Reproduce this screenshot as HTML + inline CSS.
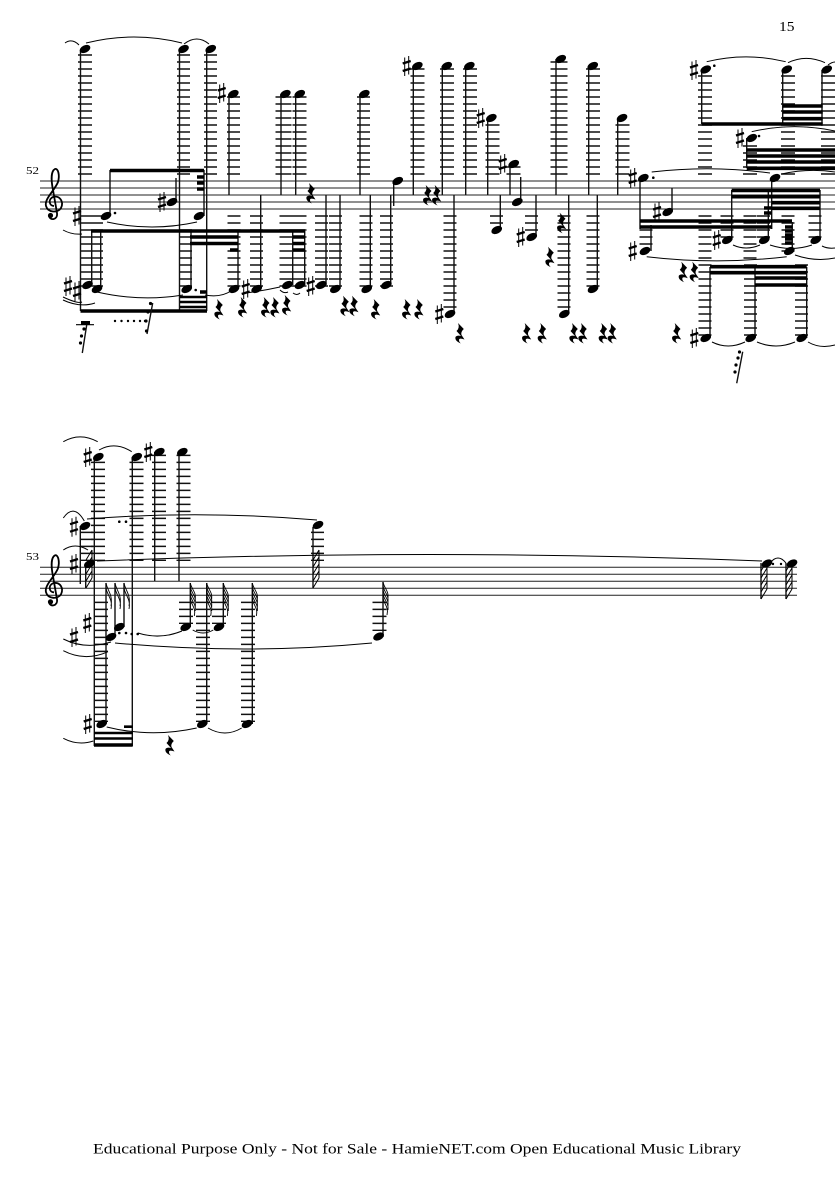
<!DOCTYPE html>
<html><head><meta charset="utf-8"><style>
html,body{margin:0;padding:0;background:#fff;width:835px;height:1181px;overflow:hidden}
svg{display:block}
.staff{stroke:#222;stroke-width:1;fill:none}
.st{stroke:#111;stroke-width:1.4;fill:none}
.b{stroke:#000;stroke-width:3.6;fill:none}
.bt{stroke:#000;stroke-width:2.6;fill:none}
.l{stroke:#111;stroke-dasharray:1.5 5.5;fill:none}
.sl{stroke:#000;stroke-width:1;fill:none}
text{font-family:"Liberation Serif",serif;fill:#000}
</style></head><body>
<svg width="835" height="1181" viewBox="0 0 835 1181" xmlns="http://www.w3.org/2000/svg">
<defs>
<g id="n"><ellipse rx="5.7" ry="3.6" transform="rotate(-27)"/></g>
<g id="s"><path d="M-2 -8.5V10M2 -10V8.5" stroke="#000" stroke-width="1" fill="none"/><path d="M-4 -2.5L4 -5M-4 5L4 2.5" stroke="#000" stroke-width="2.3" fill="none"/></g>
<g id="r"><path d="M-2 -10L3.8 -4Q0.5 -1 1.5 2L4.5 6.5Q-1 4.5-1 7Q-1 9 1 10.5Q-5.5 8-4.5 4Q-3 2 1 3L-3.5 -2Q0 -5-2 -10Z"/></g>
<g id="c"><path d="M54 206C49 206 48 199 53 197C60 195 64 202 61 208C58 213 48 213 46 206C44 199 55 190 58 182C60 175 58 168 55 169C51 171 51 180 53 190L57 213C58 220 50 221 49 216" fill="none" stroke="#000" stroke-width="1.8"/><circle cx="50.5" cy="215.5" r="2.6"/></g>
<g id="f"><path d="M0 0C1 6 6 9 5 16M0 4C1 10 6 13 5 20M0 8C1 14 6 17 5 24M0 12C1 18 6 21 5 28M0 16C1 22 6 25 4 33" fill="none" stroke="#000" stroke-width=".9"/></g>
<g id="h"><path d="M0 8L6 -2M0 15L6 5M0 22L6 12M0 29L6 19M0 36L6 26M6 -2V26" fill="none" stroke="#000" stroke-width="1"/></g>
</defs>
<rect width="835" height="1181" fill="#fff"/>
<text x="779" y="31" font-size="14" textLength="15.5" lengthAdjust="spacingAndGlyphs">15</text>
<text x="26" y="174" font-size="10" textLength="13" lengthAdjust="spacingAndGlyphs">52</text>
<text x="26" y="560" font-size="10" textLength="13" lengthAdjust="spacingAndGlyphs">53</text>
<text x="93" y="1153.5" font-size="14.4" textLength="648" lengthAdjust="spacingAndGlyphs">Educational Purpose Only - Not for Sale - HamieNET.com Open Educational Music Library</text>

<path class="staff" d="M40 181H835M40 188H835M40 195H835M40 202H835M40 209H835"/>
<path class="staff" d="M40 567.3H797M40 574.3H797M40 581.3H797M40 588.3H797M40 595.3H797"/>
<use href="#c"/><use href="#c" y="386.3"/>

<!-- ledgers system 1 up -->
<path class="l" stroke-width="14" d="M85 54.3V175"/>
<path class="l" stroke-width="13" d="M183.5 54.3V175M210.5 54.3V175M233.5 96.3V175M363.5 96.3V175"/>
<path class="l" stroke-width="16" d="M283.5 96.3V175"/>
<path class="l" stroke-width="14" d="M299.5 96.3V175M417.5 68.3V175M447 68.3V175M470 68.3V175M492.5 124.3V175M513.5 166.3V175M593 68.3V175M622.5 124.3V175M705 75.3V175M788 75.3V175M828 75.3V175M750 145.3V175"/>
<path class="l" stroke-width="17" d="M559 61.3V175"/>
<!-- ledgers system 1 down -->
<path class="l" stroke-width="22" d="M92 215.3V287"/>
<path class="l" stroke-width="13" d="M185.5 229.3V287M234 215.3V287M256.5 215.3V287M286 215.3V287M321.5 215.3V287M335.5 215.3V287M366 215.3V287M386.5 215.3V287M450 215.3V312M564 215.3V312M593 215.3V287M496.5 215.3V224M531.5 215.3V231M646 229.3V245M705 215.3V259M727 215.3V238M750 215.3V259M763.5 215.3V238M788 215.3V252M815 215.3V238"/>
<path class="l" stroke-width="14" d="M299.5 215.3V287"/>
<path class="l" stroke-width="13" d="M705 264.3V336M750.5 264.3V336M801.5 264.3V336"/>
<!-- ledgers system 2 -->
<path class="l" stroke-width="14" d="M98 461.6V561M136.5 461.6V561M159 454.6V561M183.5 454.6V561"/>
<path class="l" stroke-width="13" d="M86.5 531.6V561M317.5 531.6V561"/>
<path class="l" stroke-width="14" d="M101 601.6V722M186 601.6V624M203 601.6V722M219 601.6V624M248 601.6V722M379.5 601.6V631"/>

<!-- stems system 1 -->
<path class="st" d="M80.5 50V311M179.5 50V311M206.7 50V311M91.7 231V285M100.7 231V289M110 170V216M204 170V216M176 178V202M191 231V289M238 231V289M229 94V195M260.7 195V289M281 94V195M295.7 94V195M292.7 231V285M304.7 231V285M326 195V285M340 195V289M360 94V195M370.3 195V289M390.7 195V285M393.7 181V206M413.3 66V195M442.3 66V195M465.7 66V195M454 195V314M487.7 118V195M510 164V195M500.3 195V230M520.7 177V202M536 195V237M556 59V195M588.7 66V195M617.7 118V195M568.7 195V314M597.3 195V289M640 178V229M651 225V251M672 188V212M701.7 70V124M731.7 190V240M768.3 190V240M820 190V240M792.3 222V251M782.7 70V124M822 70V124M746.7 138V168M771.7 178V229M710 267V338M755 267V338M806.7 267V338"/>
<!-- stems system 2 -->
<path class="st" d="M94.3 457V746M132.3 457V746M154.7 452V581M179 452V581M80.3 526V584M85.7 564V588M106 583V724M115 583V637M124 583V627M190.3 583V627M206.7 583V724M223.3 583V627M252.3 583V724M313 527V588M383 582V637M761 563V599M786 563V599"/>

<!-- beams system 1 -->
<path class="b" d="M110 170.5H204M80.5 311H207M91 231H305M190 237H238M190 243.5H238M230 250H238M293 237H305M293 243.5H305M293 250H305M197 177H204M197 183H204M197 189H204M200 292H207"/>
<path class="bt" d="M180 297H207M180 302H207M180 307H207"/>
<path class="b" d="M640 221H792M640 227H771.7M701.7 124H822.7M783 106H822.7M783 112H822.7M783 118.7H822.7M746.7 150H835M746.7 156H835M746.7 162H835M746.7 168.3H835M731.7 190.5H820M731.7 196.7H820M771.7 202.7H820M771.7 208.3H820M764 208H771.7M764 213H771.7M785 227H792M785 231H792M785 235H792M785 239H792M785 243H792M710 266.7H806.7M710 272.7H806.7M755 278H806.7M755 285H806.7"/>
<!-- beams system 2 -->
<path class="bt" d="M94 733H132.7M94 738.5H132.7M124 726.7H132.7"/>
<path class="b" d="M94 745H132.7"/>

<!-- notes system 1 -->
<g>
<use href="#n" x="85" y="49"/><use href="#n" x="183.5" y="49"/><use href="#n" x="210.7" y="49"/>
<use href="#n" x="87.5" y="285"/><use href="#n" x="97" y="289"/><use href="#n" x="106" y="216"/><use href="#n" x="199" y="216"/><use href="#n" x="172" y="202"/>
<use href="#n" x="186.7" y="289"/><use href="#n" x="234" y="289"/><use href="#n" x="233.3" y="94"/><use href="#n" x="256.7" y="289"/>
<use href="#n" x="285.3" y="94"/><use href="#n" x="299.7" y="94"/><use href="#n" x="287.3" y="285"/><use href="#n" x="300" y="285"/><use href="#n" x="321.3" y="285"/><use href="#n" x="335.3" y="289"/>
<use href="#n" x="364.3" y="94"/><use href="#n" x="366.7" y="289"/><use href="#n" x="386.3" y="285"/><use href="#n" x="397.7" y="181"/>
<use href="#n" x="417.3" y="66"/><use href="#n" x="446.7" y="66"/><use href="#n" x="469.3" y="66"/><use href="#n" x="450" y="314"/>
<use href="#n" x="491.3" y="118"/><use href="#n" x="513.7" y="164"/><use href="#n" x="496.7" y="230"/><use href="#n" x="517.3" y="202"/><use href="#n" x="531.7" y="237"/>
<use href="#n" x="560.7" y="59"/><use href="#n" x="592.7" y="66"/><use href="#n" x="622" y="118"/><use href="#n" x="564.3" y="314"/><use href="#n" x="593" y="289"/>
<use href="#n" x="643.3" y="178"/><use href="#n" x="645" y="251"/><use href="#n" x="667.7" y="212"/><use href="#n" x="705.7" y="69.5"/>
<use href="#n" x="786.7" y="69.5"/><use href="#n" x="826.7" y="69.5"/><use href="#n" x="751.7" y="138"/><use href="#n" x="775" y="178"/>
<use href="#n" x="727.3" y="240"/><use href="#n" x="764.3" y="240"/><use href="#n" x="815.7" y="240"/><use href="#n" x="789.3" y="251"/>
<use href="#n" x="705.7" y="338"/><use href="#n" x="750.7" y="338"/><use href="#n" x="801.7" y="338"/>
</g>
<!-- notes system 2 -->
<g>
<use href="#n" x="98.3" y="457"/><use href="#n" x="136.7" y="457"/><use href="#n" x="159.3" y="452"/><use href="#n" x="182.3" y="452"/>
<use href="#n" x="85" y="526"/><use href="#n" x="89.3" y="564"/><use href="#n" x="111" y="637"/><use href="#n" x="119.3" y="627"/><use href="#n" x="101.7" y="724"/>
<use href="#n" x="185.7" y="627"/><use href="#n" x="202.3" y="724"/><use href="#n" x="219" y="627"/><use href="#n" x="247" y="724"/>
<use href="#n" x="318" y="525"/><use href="#n" x="378.6" y="636.5"/><use href="#n" x="767" y="563.5"/><use href="#n" x="792" y="563.5"/>
</g>

<!-- sharps -->
<g>
<use href="#s" x="77" y="216"/><use href="#s" x="68" y="286"/><use href="#s" x="77" y="291"/><use href="#s" x="162" y="202"/><use href="#s" x="221.7" y="93"/><use href="#s" x="245.7" y="289"/>
<use href="#s" x="310.7" y="286"/><use href="#s" x="406.7" y="66"/><use href="#s" x="439.3" y="314"/><use href="#s" x="480.7" y="118"/><use href="#s" x="502.7" y="164"/><use href="#s" x="520.7" y="237"/>
<use href="#s" x="632.7" y="178"/><use href="#s" x="632.7" y="251"/><use href="#s" x="657" y="212"/><use href="#s" x="694" y="70"/><use href="#s" x="740" y="138"/><use href="#s" x="716.7" y="240"/><use href="#s" x="694.3" y="338"/>
<use href="#s" x="87.7" y="457"/><use href="#s" x="148.3" y="452"/><use href="#s" x="74" y="526.7"/><use href="#s" x="74" y="564"/><use href="#s" x="87.3" y="623"/><use href="#s" x="74" y="637"/><use href="#s" x="87.7" y="724"/>
</g>
<!-- rests -->
<g>
<use href="#r" x="219" y="309"/><use href="#r" x="242.7" y="307"/><use href="#r" x="265.7" y="307"/><use href="#r" x="275" y="307"/><use href="#r" x="286.7" y="305"/>
<use href="#r" x="311" y="193"/><use href="#r" x="345" y="305.7"/><use href="#r" x="354" y="305.7"/><use href="#r" x="375.7" y="309"/><use href="#r" x="406.7" y="309"/><use href="#r" x="419" y="309"/>
<use href="#r" x="427.7" y="195"/><use href="#r" x="436.7" y="195"/><use href="#r" x="460" y="333"/><use href="#r" x="526.7" y="333"/><use href="#r" x="542.3" y="333"/><use href="#r" x="550" y="256.7"/>
<use href="#r" x="561.7" y="222.7"/><use href="#r" x="574" y="333"/><use href="#r" x="583" y="333"/><use href="#r" x="603.3" y="333"/><use href="#r" x="612.3" y="333"/><use href="#r" x="676.7" y="333"/>
<use href="#r" x="683.3" y="271.7"/><use href="#r" x="694.3" y="271.7"/><use href="#r" x="170" y="745"/>
</g>
<!-- small rests with flags -->
<path d="M76 324.7H94" stroke="#000" stroke-width="1.2"/>
<rect x="81" y="321" width="9" height="4" />
<path class="st" d="M86.7 325L82.3 353M152.7 303L147 334M742.7 351.7L736.7 383.3"/>
<g>
<circle cx="84" cy="329" r="1.6"/><circle cx="81.5" cy="336" r="1.6"/><circle cx="80.5" cy="343" r="1.6"/>
<circle cx="150.5" cy="303.5" r="1.6"/><circle cx="148" cy="312" r="1.6"/><circle cx="146" cy="321" r="1.6"/><circle cx="146.5" cy="331" r="1.6"/>
<circle cx="739.5" cy="352" r="1.6"/><circle cx="738" cy="358" r="1.6"/><circle cx="736" cy="365" r="1.6"/><circle cx="735" cy="372" r="1.6"/>
</g>
<!-- dots -->
<g>
<circle cx="115" cy="213" r="1.3"/><circle cx="195.7" cy="290" r="1.3"/><circle cx="653.3" cy="177.7" r="1.3"/><circle cx="714.3" cy="65.7" r="1.3"/><circle cx="759" cy="136" r="1.3"/>
<circle cx="115" cy="321" r="1.2"/><circle cx="121.5" cy="321" r="1.2"/><circle cx="128" cy="321" r="1.2"/><circle cx="134" cy="321" r="1.2"/><circle cx="140" cy="321" r="1.2"/><circle cx="145" cy="321" r="1.2"/>
<circle cx="119.3" cy="521.7" r="1.3"/><circle cx="126" cy="521.7" r="1.3"/><circle cx="119.3" cy="633" r="1.3"/><circle cx="126" cy="633" r="1.3"/><circle cx="131.7" cy="634" r="1.3"/><circle cx="137.7" cy="634" r="1.3"/>
<circle cx="773" cy="564" r="1.2"/><circle cx="781" cy="564" r="1.2"/>
</g>

<!-- flags -->
<use href="#h" x="761" y="563"/><use href="#h" x="786" y="563"/>
<use href="#h" x="313" y="552"/><use href="#h" x="86" y="552"/>
<path d="M106 583C107 590 113 594 111 606M115 583C116 590 122 594 120 606M124 583C125 590 131 594 129 606M106 588C107 595 113 599 111 609M115 588C116 595 122 599 120 609M124 588C125 595 131 599 129 609" fill="none" stroke="#000" stroke-width=".9"/>
<use href="#f" x="190.3" y="583"/><use href="#f" x="206.7" y="583"/><use href="#f" x="223.3" y="583"/><use href="#f" x="252.3" y="583"/><use href="#f" x="383" y="582"/>

<!-- slurs system 1 -->
<path class="sl" d="M65 43Q72 38 79 45M86 43Q134 31 182 43M184 44Q197 34 209 44M63 230Q72 235 82 234M63 300Q80 308 95 303M63 297Q78 304 82 302M97 292Q140 302 183 295M107 222Q152 232 197 222M205 295Q220 298 231 291M246 293Q262 291 280 287M280 290Q284 294 288 292M293 293Q297 296 300 293"/>
<path class="sl" d="M706.7 61.7Q746 52 785.7 61.7M788 62.7Q806 54 825 62.7M828 65Q832 62 835 62M751.7 131.7Q793 122 835 131M651.7 172Q711 165 770 173M781.7 174Q808 168 835 172M733 245Q746 251 760 245M770 245Q791 252 812 245M822 246Q828 249 835 248M646.7 256.7Q717 265 786.7 256.7M795 255Q815 262 835 258M712 342Q728 350 745 342M757 342Q776 350 795 342M808 342Q820 349 835 345"/>
<!-- slurs system 2 -->
<path class="sl" d="M63.3 441.7Q80 432 97.7 441.7M99 450Q115 441 131.7 451.7M63.3 518Q74 503 84.3 521M63.3 550Q75 542 88 550M87 519Q200 510 317 520M97 561Q430 548 762 561M770 563Q778 553 786 563M63.3 639Q85 650 111 642M63.3 650.7Q85 662 108 651.7M115 643Q245 655 372 643M63.3 738.3Q78 746 93.3 741M106.7 727Q151 738 196.7 728M208 728Q225 738 241.7 728M138 633Q160 640 182 631M192.7 630Q203 636 213.3 630"/>
</svg>
</body></html>
